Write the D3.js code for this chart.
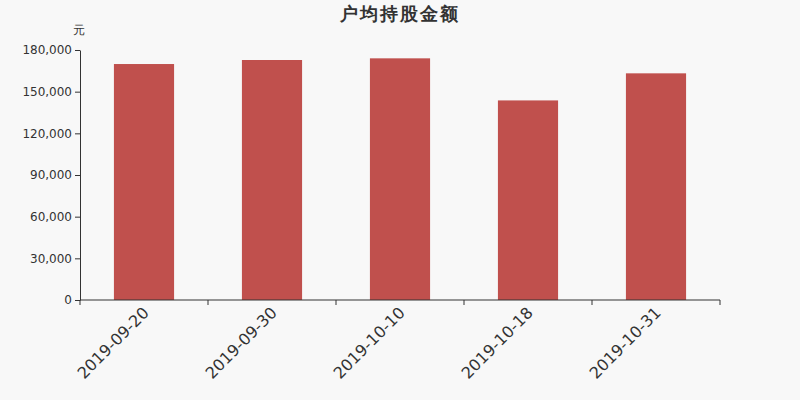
<!DOCTYPE html>
<html>
<head>
<meta charset="utf-8">
<script src="https://cdn.jsdelivr.net/npm/d3@7"></script>
<style>
  body { margin: 0; background: #f8f8f8; }
  svg { display: block; }
  svg text { font-family: "DejaVu Sans", sans-serif; }
</style>
</head>
<body>
<svg id="chart" width="800" height="400"></svg>
<script>
// 户均持股金额 (元)
var dates = ["2019-09-20", "2019-09-30", "2019-10-10", "2019-10-18", "2019-10-31"];
var amounts = [169900, 172800, 174000, 143700, 163200];
var yTicks = [0, 30000, 60000, 90000, 120000, 150000, 180000];

var svg = d3.select("#chart");
var margin = {top: 50, right: 80, bottom: 100, left: 80};
var w = 800 - margin.left - margin.right;
var h = 400 - margin.top - margin.bottom;

svg.append("rect").attr("width", 800).attr("height", 400).attr("fill", "#f8f8f8");

var g = svg.append("g").attr("transform", "translate(" + margin.left + "," + margin.top + ")");

var x = d3.scaleBand().domain(dates).range([0, w]).paddingInner(0.53).paddingOuter(0.265);
var y = d3.scaleLinear().domain([0, 180000]).range([h, 0]);

g.selectAll(".bar")
  .data(amounts)
  .enter().append("rect")
  .attr("class", "bar")
  .attr("x", (d, i) => x(dates[i]))
  .attr("y", d => y(d))
  .attr("width", x.bandwidth())
  .attr("height", d => h - y(d))
  .attr("fill", "#c0504d");

var yAxis = g.append("g")
  .call(d3.axisLeft(y).tickValues(yTicks).tickSize(5).tickSizeOuter(0).tickFormat(d3.format(",")));
yAxis.attr("font-family", "DejaVu Sans, sans-serif");
yAxis.select(".domain").attr("stroke", "#333");
yAxis.selectAll(".tick line").attr("stroke", "#333");
yAxis.selectAll("text").attr("fill", "#333").style("font-size", "12px").attr("x", -8);

// x axis: ticks at band edges
var xEdges = d3.scaleLinear().domain([0, dates.length]).range([0, w]);
var xAxis = g.append("g").attr("transform", "translate(0," + h + ")");
xAxis.append("line").attr("x1", 0).attr("x2", w).attr("stroke", "#333");
xAxis.selectAll(".edge")
  .data(d3.range(dates.length + 1))
  .enter().append("line")
  .attr("x1", d => xEdges(d)).attr("x2", d => xEdges(d))
  .attr("y1", 0).attr("y2", 5)
  .attr("stroke", "#333");
xAxis.selectAll(".lbl")
  .data(dates)
  .enter().append("text")
  .attr("transform", d => "translate(" + (x(d) + x.bandwidth() / 2 - 2) + ",6) rotate(-45)")
  .attr("text-anchor", "end")
  .attr("dy", "0.7em")
  .attr("fill", "#333")
  .style("font-size", "16px")
  .text(d => d);

svg.append("text")
  .attr("x", 400).attr("y", 20)
  .attr("text-anchor", "middle")
  .attr("fill", "#333")
  .style("font-size", "18px")
  .style("letter-spacing", "2px")
  .style("font-weight", "bold")
  .text("户均持股金额");

svg.append("text")
  .attr("x", 79).attr("y", 34)
  .attr("text-anchor", "middle")
  .attr("fill", "#333")
  .style("font-size", "12px")
  .text("元");
</script>
</body>
</html>
